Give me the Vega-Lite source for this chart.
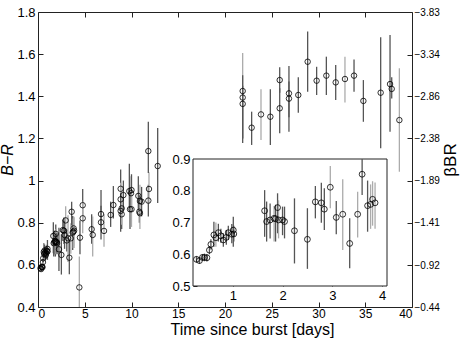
{
  "$schema": "https://vega.github.io/schema/vega-lite/v6.json",
  "width": 374,
  "height": 295,
  "autosize": "none",
  "padding": {"left": 38, "top": 12, "right": 51, "bottom": 33},
  "background": "white",
  "config": {
    "font": "Liberation Sans",
    "view": {"stroke": "#222222", "strokeWidth": 1},
    "axis": {"grid": false, "domain": false, "labelColor": "black", "tickColor": "#222222", "labelFont": "Liberation Sans", "titleFont": "Liberation Sans", "titleFontWeight": "normal", "titleColor": "black", "labelFontSize": 12, "tickWidth": 1}
  },
  "datasets": {
    "br": [
      {"t": 0.27, "v": 0.584, "lo": 0.574, "hi": 0.594, "g": "d"},
      {"t": 0.33, "v": 0.580, "lo": 0.570, "hi": 0.590, "g": "d"},
      {"t": 0.39, "v": 0.590, "lo": 0.580, "hi": 0.600, "g": "d"},
      {"t": 0.43, "v": 0.590, "lo": 0.578, "hi": 0.602, "g": "d"},
      {"t": 0.48, "v": 0.589, "lo": 0.577, "hi": 0.601, "g": "d"},
      {"t": 0.53, "v": 0.613, "lo": 0.600, "hi": 0.626, "g": "d"},
      {"t": 0.56, "v": 0.631, "lo": 0.615, "hi": 0.647, "g": "d"},
      {"t": 0.62, "v": 0.661, "lo": 0.624, "hi": 0.702, "g": "d"},
      {"t": 0.66, "v": 0.652, "lo": 0.624, "hi": 0.700, "g": "l"},
      {"t": 0.71, "v": 0.668, "lo": 0.640, "hi": 0.696, "g": "d"},
      {"t": 0.76, "v": 0.658, "lo": 0.636, "hi": 0.680, "g": "d"},
      {"t": 0.81, "v": 0.645, "lo": 0.624, "hi": 0.666, "g": "d"},
      {"t": 0.87, "v": 0.653, "lo": 0.630, "hi": 0.676, "g": "d"},
      {"t": 0.91, "v": 0.668, "lo": 0.645, "hi": 0.690, "g": "d"},
      {"t": 0.98, "v": 0.663, "lo": 0.635, "hi": 0.695, "g": "d"},
      {"t": 1.01, "v": 0.676, "lo": 0.624, "hi": 0.718, "g": "d"},
      {"t": 1.02, "v": 0.664, "lo": 0.640, "hi": 0.690, "g": "d"},
      {"t": 1.64, "v": 0.737, "lo": 0.655, "hi": 0.802, "g": "d"},
      {"t": 1.68, "v": 0.703, "lo": 0.640, "hi": 0.766, "g": "d"},
      {"t": 1.75, "v": 0.708, "lo": 0.650, "hi": 0.760, "g": "d"},
      {"t": 1.83, "v": 0.713, "lo": 0.640, "hi": 0.752, "g": "l"},
      {"t": 1.86, "v": 0.712, "lo": 0.640, "hi": 0.756, "g": "d"},
      {"t": 1.90, "v": 0.747, "lo": 0.666, "hi": 0.792, "g": "d"},
      {"t": 1.92, "v": 0.708, "lo": 0.650, "hi": 0.770, "g": "l"},
      {"t": 2.00, "v": 0.708, "lo": 0.660, "hi": 0.750, "g": "d"},
      {"t": 2.04, "v": 0.703, "lo": 0.650, "hi": 0.750, "g": "d"},
      {"t": 2.24, "v": 0.674, "lo": 0.571, "hi": 0.776, "g": "d"},
      {"t": 2.50, "v": 0.647, "lo": 0.554, "hi": 0.745, "g": "d"},
      {"t": 2.66, "v": 0.765, "lo": 0.713, "hi": 0.815, "g": "d"},
      {"t": 2.78, "v": 0.762, "lo": 0.699, "hi": 0.825, "g": "d"},
      {"t": 2.84, "v": 0.742, "lo": 0.676, "hi": 0.808, "g": "d"},
      {"t": 2.96, "v": 0.811, "lo": 0.745, "hi": 0.878, "g": "l"},
      {"t": 3.08, "v": 0.716, "lo": 0.663, "hi": 0.768, "g": "d"},
      {"t": 3.21, "v": 0.726, "lo": 0.613, "hi": 0.836, "g": "l"},
      {"t": 3.35, "v": 0.634, "lo": 0.556, "hi": 0.713, "g": "d"},
      {"t": 3.51, "v": 0.726, "lo": 0.653, "hi": 0.797, "g": "l"},
      {"t": 3.60, "v": 0.852, "lo": 0.787, "hi": 0.900, "g": "d"},
      {"t": 3.71, "v": 0.753, "lo": 0.671, "hi": 0.832, "g": "d"},
      {"t": 3.77, "v": 0.757, "lo": 0.680, "hi": 0.820, "g": "l"},
      {"t": 3.81, "v": 0.773, "lo": 0.690, "hi": 0.830, "g": "l"},
      {"t": 3.86, "v": 0.762, "lo": 0.680, "hi": 0.826, "g": "l"},
      {"t": 4.42, "v": 0.493, "lo": 0.37, "hi": 0.64, "g": "l"},
      {"t": 4.49, "v": 0.729, "lo": 0.65, "hi": 0.81, "g": "d"},
      {"t": 4.78, "v": 0.883, "lo": 0.80, "hi": 0.96, "g": "d"},
      {"t": 4.78, "v": 0.821, "lo": 0.75, "hi": 0.90, "g": "l"},
      {"t": 5.74, "v": 0.769, "lo": 0.70, "hi": 0.84, "g": "d"},
      {"t": 5.85, "v": 0.742, "lo": 0.64, "hi": 0.83, "g": "l"},
      {"t": 6.74, "v": 0.841, "lo": 0.76, "hi": 0.955, "g": "d"},
      {"t": 6.74, "v": 0.802, "lo": 0.72, "hi": 0.88, "g": "d"},
      {"t": 7.06, "v": 0.761, "lo": 0.686, "hi": 0.84, "g": "l"},
      {"t": 7.77, "v": 0.837, "lo": 0.78, "hi": 0.90, "g": "d"},
      {"t": 8.06, "v": 0.884, "lo": 0.82, "hi": 0.974, "g": "d"},
      {"t": 8.84, "v": 0.961, "lo": 0.88, "hi": 1.053, "g": "d"},
      {"t": 8.84, "v": 0.911, "lo": 0.83, "hi": 0.99, "g": "l"},
      {"t": 8.84, "v": 0.856, "lo": 0.757, "hi": 0.94, "g": "d"},
      {"t": 8.95, "v": 0.840, "lo": 0.77, "hi": 0.92, "g": "d"},
      {"t": 9.13, "v": 0.931, "lo": 0.86, "hi": 1.00, "g": "d"},
      {"t": 8.95, "v": 0.868, "lo": 0.79, "hi": 0.95, "g": "l"},
      {"t": 9.77, "v": 0.950, "lo": 0.87, "hi": 1.08, "g": "d"},
      {"t": 9.95, "v": 0.940, "lo": 0.86, "hi": 1.02, "g": "l"},
      {"t": 10.0, "v": 0.955, "lo": 0.88, "hi": 1.03, "g": "d"},
      {"t": 9.84, "v": 0.864, "lo": 0.77, "hi": 0.94, "g": "d"},
      {"t": 10.0, "v": 0.864, "lo": 0.78, "hi": 0.95, "g": "l"},
      {"t": 10.73, "v": 0.927, "lo": 0.86, "hi": 1.02, "g": "d"},
      {"t": 10.9, "v": 0.903, "lo": 0.83, "hi": 0.98, "g": "l"},
      {"t": 11.08, "v": 0.900, "lo": 0.83, "hi": 0.97, "g": "d"},
      {"t": 10.84, "v": 0.852, "lo": 0.80, "hi": 0.93, "g": "d"},
      {"t": 10.9, "v": 0.845, "lo": 0.77, "hi": 0.92, "g": "l"},
      {"t": 11.8, "v": 0.905, "lo": 0.83, "hi": 0.98, "g": "d"},
      {"t": 11.87, "v": 0.960, "lo": 0.89, "hi": 1.04, "g": "l"},
      {"t": 11.8, "v": 1.14, "lo": 1.036, "hi": 1.279, "g": "d"},
      {"t": 12.8, "v": 1.069, "lo": 0.893, "hi": 1.25, "g": "d"},
      {"t": 21.89, "v": 1.425, "lo": 1.20, "hi": 1.605, "g": "l"},
      {"t": 21.89, "v": 1.394, "lo": 1.178, "hi": 1.45, "g": "d"},
      {"t": 21.89, "v": 1.364, "lo": 1.20, "hi": 1.50, "g": "d"},
      {"t": 22.85, "v": 1.251, "lo": 1.169, "hi": 1.327, "g": "d"},
      {"t": 23.85, "v": 1.314, "lo": 1.193, "hi": 1.433, "g": "l"},
      {"t": 24.85, "v": 1.303, "lo": 1.169, "hi": 1.433, "g": "d"},
      {"t": 25.85, "v": 1.343, "lo": 1.224, "hi": 1.438, "g": "d"},
      {"t": 25.85, "v": 1.477, "lo": 1.417, "hi": 1.538, "g": "d"},
      {"t": 26.84, "v": 1.414, "lo": 1.232, "hi": 1.544, "g": "d"},
      {"t": 26.84, "v": 1.389, "lo": 1.30, "hi": 1.47, "g": "d"},
      {"t": 27.84, "v": 1.406, "lo": 1.322, "hi": 1.49, "g": "d"},
      {"t": 28.84, "v": 1.564, "lo": 1.422, "hi": 1.707, "g": "d"},
      {"t": 29.8, "v": 1.474, "lo": 1.406, "hi": 1.54, "g": "d"},
      {"t": 30.84, "v": 1.498, "lo": 1.406, "hi": 1.588, "g": "d"},
      {"t": 31.84, "v": 1.466, "lo": 1.382, "hi": 1.548, "g": "d"},
      {"t": 32.83, "v": 1.482, "lo": 1.37, "hi": 1.588, "g": "l"},
      {"t": 33.8, "v": 1.498, "lo": 1.422, "hi": 1.575, "g": "d"},
      {"t": 34.8, "v": 1.378, "lo": 1.279, "hi": 1.477, "g": "d"},
      {"t": 36.65, "v": 1.417, "lo": 1.153, "hi": 1.68, "g": "d"},
      {"t": 37.65, "v": 1.458, "lo": 1.232, "hi": 1.691, "g": "d"},
      {"t": 37.83, "v": 1.435, "lo": 1.39, "hi": 1.49, "g": "d"},
      {"t": 38.65, "v": 1.287, "lo": 1.042, "hi": 1.533, "g": "l"}
    ]
  },
  "layer": [
    {
      "data": {"name": "br"},
      "layer": [
        {
          "mark": {"type": "rule", "strokeWidth": 1.3, "clip": true},
          "encoding": {
            "x": {"field": "t", "type": "quantitative", "scale": {"domain": [0, 40], "nice": false, "zero": false},
              "axis": {"orient": "bottom", "values": [0, 5, 10, 15, 20, 25, 30, 35, 40], "tickSize": -5, "labelPadding": 6, "labelFontSize": 12, "title": "Time since burst [days]", "titleFontSize": 16, "titlePadding": 2, "titleX": 214}},
            "y": {"field": "lo", "type": "quantitative", "scale": {"domain": [0.4, 1.8], "nice": false, "zero": false},
              "axis": {"orient": "left", "values": [0.4, 0.6, 0.8, 1, 1.2, 1.4, 1.6, 1.8], "format": "~g", "tickSize": -5, "labelPadding": 8, "labelFontSize": 13, "title": "B−R", "titleFontStyle": "italic", "titleFontSize": 16, "titlePadding": 1}},
            "y2": {"field": "hi"},
            "color": {"field": "g", "type": "nominal", "scale": {"domain": ["d", "l"], "range": ["#555555", "#ababab"]}, "legend": null}
          }
        },
        {
          "mark": {"type": "point", "shape": "circle", "filled": false, "color": "black", "size": 30, "strokeWidth": 0.8, "opacity": 1},
          "encoding": {
            "x": {"field": "t", "type": "quantitative"},
            "y": {"field": "v", "type": "quantitative"}
          }
        }
      ]
    },
    {
      "data": {"name": "br"},
      "mark": {"type": "point", "opacity": 0},
      "encoding": {
        "x": {"datum": 20, "type": "quantitative", "scale": {"domain": [0, 40], "nice": false, "zero": false},
          "axis": {"orient": "top", "values": [5, 10, 15, 20, 25, 30, 35], "labels": false, "tickSize": -5, "title": null}},
        "y": {"datum": -2, "type": "quantitative", "scale": {"domain": [-0.44, -3.83], "nice": false, "zero": false},
          "axis": {"orient": "right", "values": [-0.44, -0.92, -1.41, -1.89, -2.38, -2.86, -3.34, -3.83], "format": ".2f", "tickSize": -5, "labelPadding": 7, "labelFontSize": 10, "title": "βBR", "titleFontSize": 17, "titleAngle": 270, "titleBaseline": "top", "titlePadding": 3}}
      }
    },
    {
      "layer": [
        {
          "data": {"values": [{"panel": "inset"}]},
          "mark": {"type": "rect", "fill": "white", "stroke": "#222222", "strokeWidth": 1},
          "encoding": {
            "x": {"datum": 0.2, "type": "quantitative", "scale": {"domain": [0.2, 4.1], "range": [155, 349], "nice": false, "zero": false},
              "axis": {"orient": "bottom", "offset": -21, "values": [1, 2, 3, 4], "format": "d", "tickSize": -4, "labelPadding": 7, "labelFontSize": 13, "title": null}},
            "x2": {"datum": 4.1},
            "y": {"datum": 0.5, "type": "quantitative", "scale": {"domain": [0.5, 0.9], "range": [274, 147], "nice": false, "zero": false},
              "axis": {"orient": "left", "offset": -155, "values": [0.5, 0.6, 0.7, 0.8, 0.9], "format": ".1f", "tickSize": -4, "labelPadding": 7, "labelFontSize": 13, "title": null}},
            "y2": {"datum": 0.9}
          }
        },
        {
          "data": {"name": "br"},
          "transform": [{"filter": "datum.t < 4.1"}],
          "mark": {"type": "rule", "strokeWidth": 1.3},
          "encoding": {
            "x": {"field": "t", "type": "quantitative"},
            "y": {"field": "lo", "type": "quantitative"},
            "y2": {"field": "hi"},
            "color": {"field": "g", "type": "nominal", "scale": {"domain": ["d", "l"], "range": ["#555555", "#ababab"]}, "legend": null}
          }
        },
        {
          "data": {"name": "br"},
          "transform": [{"filter": "datum.t < 4.1"}],
          "mark": {"type": "point", "shape": "circle", "filled": false, "color": "black", "size": 34, "strokeWidth": 0.8, "opacity": 1},
          "encoding": {
            "x": {"field": "t", "type": "quantitative"},
            "y": {"field": "v", "type": "quantitative"}
          }
        }
      ]
    }
  ],
  "resolve": {"scale": {"x": "independent", "y": "independent", "color": "shared"}, "axis": {"x": "independent", "y": "independent"}}
}
